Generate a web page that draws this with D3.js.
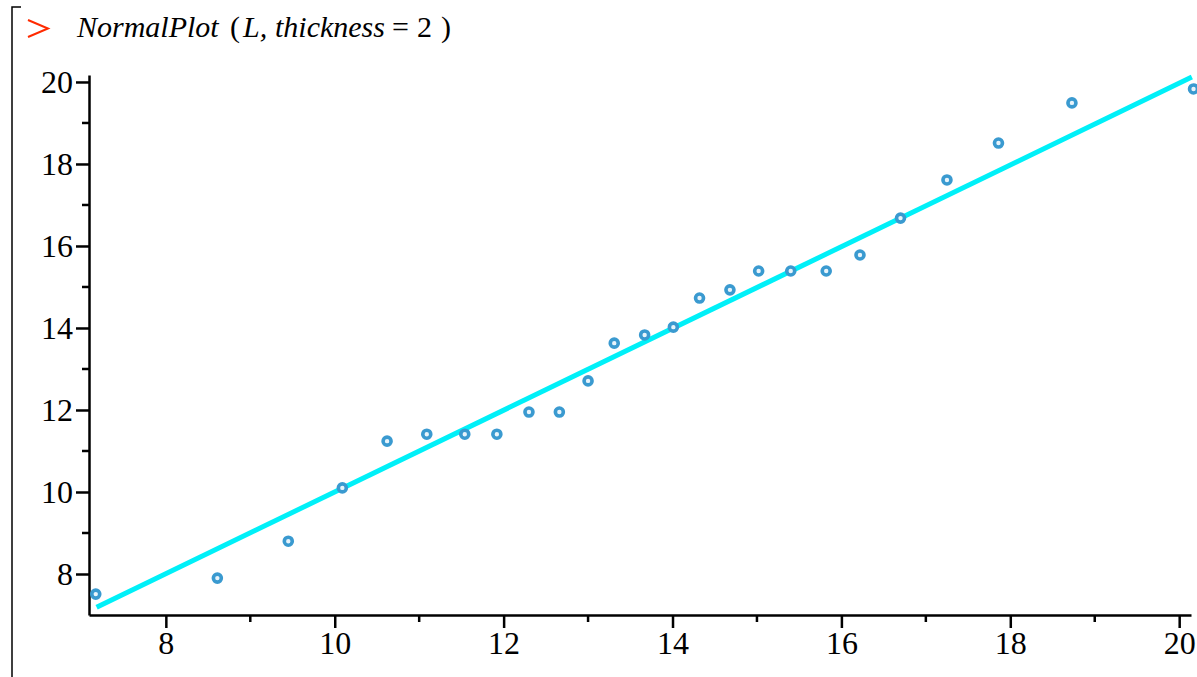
<!DOCTYPE html>
<html>
<head>
<meta charset="utf-8">
<script src="https://cdn.jsdelivr.net/npm/d3@7/dist/d3.min.js"></script>
<style>
  body { margin: 0; background: #fff; }
  svg { display: block; }
  .axis text { font-family: "Liberation Serif", "Times New Roman", serif; font-size: 32px; fill: #000; }
  .axis path, .axis line { stroke: #000; stroke-width: 2.5; }
</style>
</head>
<body>
<div id="chart"></div>
<script>
// normal quantiles (x) and sorted sample (y)
var quantiles = [7.17, 8.61, 9.45, 10.09, 10.62, 11.09, 11.54, 11.92, 12.30, 12.66, 13.00, 13.31, 13.67,
                 14.01, 14.32, 14.68, 15.02, 15.40, 15.82, 16.22, 16.70, 17.25, 17.86, 18.73, 20.17];
var sample = [7.51, 7.90, 8.80, 10.10, 11.24, 11.41, 11.41, 11.41, 11.95, 11.95, 12.71, 13.63, 13.83,
              14.02, 14.73, 14.93, 15.39, 15.39, 15.39, 15.78, 16.68, 17.61, 18.51, 19.49, 19.83];
// fitted line end points
var lineX = [7.18, 20.15];
var lineY = [7.19, 20.12];
var majorTicks = [8, 10, 12, 14, 16, 18, 20];
var minorTicks = [9, 11, 13, 15, 17, 19];

var width = 1197, height = 677;
var svg = d3.select("#chart").append("svg").attr("width", width).attr("height", height);

// worksheet bracket
svg.append("path")
    .attr("d", "M21,7 H12 V677")
    .attr("fill", "none").attr("stroke", "#000").attr("stroke-width", 1.5);

// prompt chevron
svg.append("path")
    .attr("d", "M28,20 L48,28.5 L28,37")
    .attr("fill", "none").attr("stroke", "#ff2a00").attr("stroke-width", 2);

// command line
var title = svg.append("text")
    .attr("y", 37)
    .style("font-family", "'Liberation Serif', 'Times New Roman', serif")
    .style("font-size", "30px");
title.append("tspan").attr("x", 77).style("font-style", "italic").text("NormalPlot");
title.append("tspan").attr("x", 230).text("(");
title.append("tspan").attr("x", 243).style("font-style", "italic").text("L,");
title.append("tspan").attr("x", 275).style("font-style", "italic").text("thickness");
title.append("tspan").attr("x", 392).text("=");
title.append("tspan").attr("x", 417).text("2");
title.append("tspan").attr("x", 441).text(")");

var x = d3.scaleLinear().domain([7.09, 20.14]).range([89, 1191]);
var y = d3.scaleLinear().domain([7.0, 20.17]).range([615, 75]);

// axes
var xAxis = svg.append("g").attr("class", "axis").attr("transform", "translate(0,615)");
xAxis.call(d3.axisBottom(x).tickValues(majorTicks).tickSize(13).tickSizeOuter(0).tickPadding(3).tickFormat(d3.format("d")));
xAxis.append("g").selectAll("line").data(minorTicks).join("line")
    .attr("x1", function (d) { return x(d); }).attr("x2", function (d) { return x(d); })
    .attr("y1", 0).attr("y2", 7);

var yAxis = svg.append("g").attr("class", "axis").attr("transform", "translate(89,0)");
yAxis.call(d3.axisLeft(y).tickValues(majorTicks).tickSize(13).tickSizeOuter(0).tickPadding(3).tickFormat(d3.format("d")));
yAxis.append("g").selectAll("line").data(minorTicks).join("line")
    .attr("y1", function (d) { return y(d); }).attr("y2", function (d) { return y(d); })
    .attr("x1", 0).attr("x2", -7);
yAxis.selectAll(".tick text").attr("dy", "0.34em");

// fitted line
svg.append("line")
    .attr("x1", x(lineX[0])).attr("y1", y(lineY[0]))
    .attr("x2", x(lineX[1])).attr("y2", y(lineY[1]))
    .attr("stroke", "#00f0f8").attr("stroke-width", 5);

// data points
svg.append("g").selectAll("circle").data(quantiles).join("circle")
    .attr("cx", function (d) { return x(d); })
    .attr("cy", function (d, i) { return y(sample[i]); })
    .attr("r", 4)
    .attr("fill", "#e8f4fb")
    .attr("stroke", "#3a9ad0")
    .attr("stroke-width", 3.6);
</script>
</body>
</html>
